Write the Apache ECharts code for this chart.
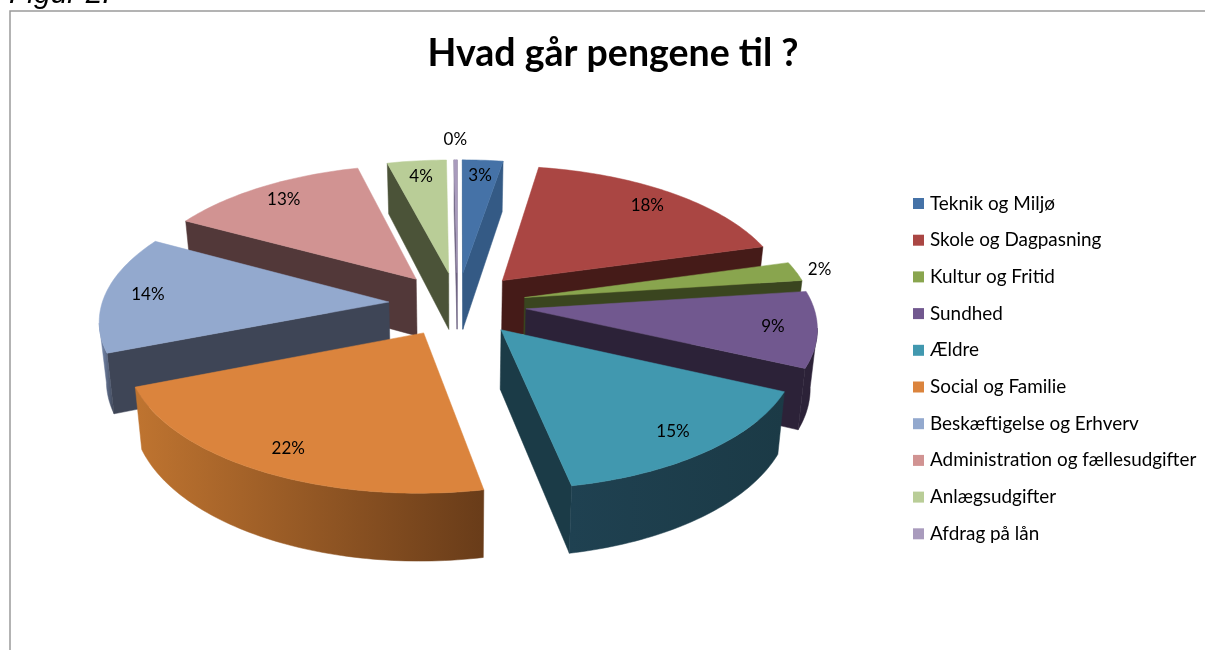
<!DOCTYPE html>
<html>
<head>
<meta charset="utf-8">
<title>Hvad går pengene til ?</title>
<style>
  html, body { margin: 0; padding: 0; background: #fff; overflow: hidden; }
  #main { width: 1205px; height: 650px; }
</style>
<script src="https://cdn.jsdelivr.net/npm/echarts@6/dist/echarts.min.js"></script>
</head>
<body>
<div id="main"></div>
<script>
const categories = ['Teknik og Miljø', 'Skole og Dagpasning', 'Kultur og Fritid', 'Sundhed', 'Ældre',
  'Social og Familie', 'Beskæftigelse og Erhverv', 'Administration og fællesudgifter', 'Anlægsudgifter', 'Afdrag på lån'];
const values = [2.6, 18, 2.3, 9, 15, 22.1, 14, 13, 3.8, 0.2];

const topColors = ['#4572a7', '#aa4643', '#89a54e', '#71588f', '#4198af', '#db843d', '#93a9ce', '#d19392', '#b9cd97', '#a99bbd'];
const cutColors = ['#345a85', '#451b18', '#3a451f', '#2c2238', '#1b3b47', '#6a3d1a', '#3e4556', '#523839', '#4b5338', '#6d6280'];
const wallLeft = ['#345a85', '#451b18', '#3a451f', '#2c2238', '#1f4151', '#bf7430', '#7f94bb', '#523839', '#4b5338', '#6d6280'];
const wallRight = ['#345a85', '#451b18', '#3a451f', '#2c2238', '#1b3a46', '#693c19', '#3e4556', '#523839', '#4b5338', '#6d6280'];

// pie "camera"
const cx = 457.5, cy = 304;
const radX = 287, radY = 133.6, persp = 0.12;
const depth = 58, bottomScale = 0.98;
const explode = 0.24;
const fontName = 'Lato, "Open Sans", sans-serif';

const total = values.reduce((a, b) => a + b, 0);
const toAngle = v => echarts.number.linearMap(v, [0, total], [0, Math.PI * 2]);

function project(u, v, low) {
  const s = 1 / (1 - persp * v);
  let x = radX * u * s;
  let y = cy + radY * v * s;
  if (low) {
    x *= bottomScale;
    y += depth * s;
  }
  return [cx + x, y];
}

// slice i as angles
const slices = [];
let cum = 0;
values.forEach((val, i) => {
  const a0 = toAngle(cum);
  cum += val;
  const a1 = toAngle(cum);
  slices.push({ a0, a1, mid: (a0 + a1) / 2 });
});

const drawOrder = slices.map((s, i) => i).sort((a, b) => -Math.cos(slices[a].mid) + Math.cos(slices[b].mid));

function polarPoint(s, r, a, low) {
  return project(explode * Math.sin(s.mid) + r * Math.sin(a), -explode * Math.cos(s.mid) - r * Math.cos(a), low);
}

function renderSlice(i) {
  const s = slices[i];
  const steps = Math.max(2, Math.ceil((s.a1 - s.a0) / 0.02));
  const topArc = [], lowArc = [];
  for (let k = 0; k <= steps; k++) {
    const a = s.a0 + (s.a1 - s.a0) * k / steps;
    topArc.push(polarPoint(s, 1, a, false));
    lowArc.push(polarPoint(s, 1, a, true));
  }
  const tipTop = polarPoint(s, 0, 0, false);
  const tipLow = polarPoint(s, 0, 0, true);
  const children = [];

  function face(points, fill) {
    children.push({ type: 'polygon', shape: { points }, style: { fill, stroke: fill, lineWidth: 0.5 } });
  }

  // cut faces, only those turned to the viewer
  if (topArc[steps][0] > tipTop[0]) face([topArc[steps], tipTop, tipLow, lowArc[steps]], cutColors[i]);
  if (tipTop[0] > topArc[0][0]) face([tipTop, topArc[0], lowArc[0], tipLow], cutColors[i]);

  // outer wall: run of the arc going leftwards on screen
  const run = [];
  for (let k = 0; k < steps; k++) {
    if (topArc[k + 1][0] < topArc[k][0]) {
      if (!run.length) run.push(k);
      run.push(k + 1);
    }
  }
  if (run.length) {
    const upper = run.map(k => topArc[k]);
    const lower = run.map(k => lowArc[k]).reverse();
    const xs = upper.concat(lower).map(p => p[0]);
    const fill = {
      type: 'linear', global: true,
      x: Math.min.apply(null, xs), y: 0, x2: Math.max.apply(null, xs), y2: 0,
      colorStops: [{ offset: 0, color: wallLeft[i] }, { offset: 1, color: wallRight[i] }]
    };
    face(upper.concat(lower), fill);
  }

  face([tipTop].concat(topArc), topColors[i]);

  // small slices get the label outside
  const labelRadius = values[i] < 1 ? 1.2 : values[i] <= 2.5 ? 1.09 : 0.85;
  const lp = polarPoint(s, labelRadius, s.mid, false);
  children.push({
    type: 'text',
    x: lp[0], y: lp[1],
    style: {
      text: Math.round(values[i]) + '%',
      fill: '#000', font: '17px ' + fontName,
      align: 'center', verticalAlign: 'middle'
    }
  });
  return { type: 'group', children };
}

const chart = echarts.init(document.getElementById('main'));
chart.setOption({
  animation: false,
  title: {
    text: 'Hvad går pengene til ?',
    left: 608, top: 30, textAlign: 'center',
    textStyle: { fontFamily: fontName, fontSize: 37.5, fontWeight: 'bold', color: '#000' }
  },
  legend: {
    orient: 'vertical',
    left: 908, top: 189,
    icon: 'rect',
    itemWidth: 11, itemHeight: 11, itemGap: 17.7,
    selectedMode: false,
    textStyle: { fontFamily: fontName, fontSize: 18.9, color: '#000', padding: [0, 0, 0, 1] },
    data: categories
  },
  graphic: [
    {
      type: 'rect', silent: true,
      shape: { x: 10, y: 11, width: 1300, height: 800 },
      style: { fill: 'none', stroke: '#9a9a9a', lineWidth: 1.5 }
    },
    {
      type: 'text', silent: true, x: 9, y: 10,
      style: { text: 'Figur 2:', fill: '#000', verticalAlign: 'bottom', font: 'italic 30px "Liberation Sans", Arial, sans-serif' }
    }
  ],
  series: categories.map((name, i) => ({
    type: 'custom',
    name,
    coordinateSystem: 'none',
    z: 2 + drawOrder.indexOf(i),
    silent: true,
    itemStyle: { color: topColors[i] },
    data: [values[i]],
    renderItem: () => renderSlice(i)
  }))
});
</script>
</body>
</html>
